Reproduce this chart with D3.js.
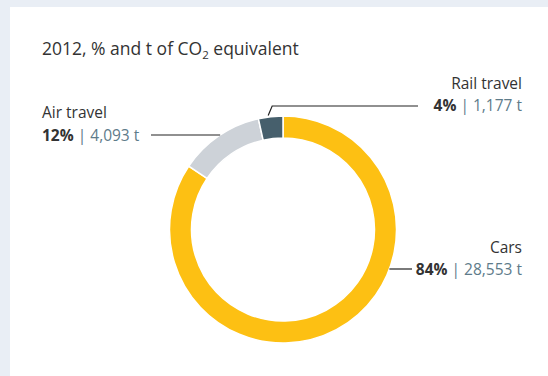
<!DOCTYPE html>
<html>
<head>
<meta charset="utf-8">
<script src="https://cdn.jsdelivr.net/npm/d3@7"></script>
<style>
  html, body { margin: 0; padding: 0; background: #e9eef5; }
  svg { display: block; font-family: "Open Sans", "Noto Sans", sans-serif; }
</style>
</head>
<body>
<svg id="chart" width="548" height="376"></svg>
<script>
// Greenhouse gas emissions from business travel, 2012
const categories = ["Cars", "Air travel", "Rail travel"];
const percents = [84, 12, 4];
const tonnes = [28553, 4093, 1177];
const colors = ["#fdc013", "#cdd2d8", "#465f6c"];

const svg = d3.select("#chart");
const W = 548, H = 376;

// white card
svg.append("rect").attr("x", 10).attr("y", 7).attr("width", W - 10).attr("height", H - 7).attr("fill", "#ffffff");

// title
const title = svg.append("text").attr("x", 42).attr("y", 55)
  .attr("font-size", 17.5).attr("fill", "#333");
title.append("tspan").text("2012, % and t of CO");
title.append("tspan").attr("font-size", 11.5).attr("dy", 3.5).text("2");
title.append("tspan").attr("dy", -3.5).text(" equivalent");

const cx = 283, cy = 229.5, rOuter = 113.5, rInner = 91.5;
const data = categories.map((c, i) => ({ name: c, pct: percents[i], t: tonnes[i], color: colors[i] }));

const pie = d3.pie().sort(null).value(d => d.t);
const arcs = pie(data);
const arc = d3.arc().innerRadius(rInner).outerRadius(rOuter);

const g = svg.append("g").attr("transform", `translate(${cx},${cy})`);
g.selectAll("path").data(arcs).join("path")
  .attr("d", arc)
  .attr("fill", d => d.data.color)
  .attr("stroke", "#fff").attr("stroke-width", 1.5);

const fmt = d3.format(",");

// x on the outer circle at height y, on the side of the slice
function edgePoint(angle, y) {
  const dy = y - cy;
  const dx = Math.sqrt(rOuter * rOuter - dy * dy);
  return Math.sin(angle) < 0 ? cx - dx : cx + dx;
}

const labelSpec = [
  { idx: 0, anchor: "end", x: 522, y1: 253, y2: 275, lineY: 269, lineEnd: 412 },
  { idx: 1, anchor: "start", x: 42, y1: 118, y2: 141, lineY: 135, lineEnd: 151 },
  { idx: 2, anchor: "end", x: 522, y1: 89, y2: 111, lineY: 106, lineEnd: 418 }
];

labelSpec.forEach(s => {
  const a = arcs[s.idx];
  const d = a.data;
  let pts;
  if (s.idx === 2) {
    const ang = (a.startAngle + a.endAngle) / 2 - 0.02;
    const px = cx + Math.sin(ang) * (rOuter + 1.5), py = cy - Math.cos(ang) * (rOuter + 1.5);
    pts = [[px, py], [px + 4, s.lineY], [s.lineEnd, s.lineY]];
  } else {
    const ang = (a.startAngle + a.endAngle) / 2;
    const ex = edgePoint(ang, s.lineY);
    pts = [[ex, s.lineY], [s.lineEnd, s.lineY]];
  }
  svg.append("path").attr("d", d3.line()(pts))
    .attr("fill", "none").attr("stroke", "#222").attr("stroke-width", 1.2);

  svg.append("text").attr("x", s.x).attr("y", s.y1).attr("text-anchor", s.anchor)
    .attr("font-size", 15.5).attr("fill", "#333").text(d.name);
  const t = svg.append("text").attr("x", s.x).attr("y", s.y2).attr("text-anchor", s.anchor)
    .attr("font-size", 15.5);
  t.append("tspan").attr("font-weight", "bold").attr("fill", "#333").text(d.pct + "%");
  t.append("tspan").attr("fill", "#5e7b8a").text(" | " + fmt(d.t) + " t");
});
</script>
</body>
</html>
